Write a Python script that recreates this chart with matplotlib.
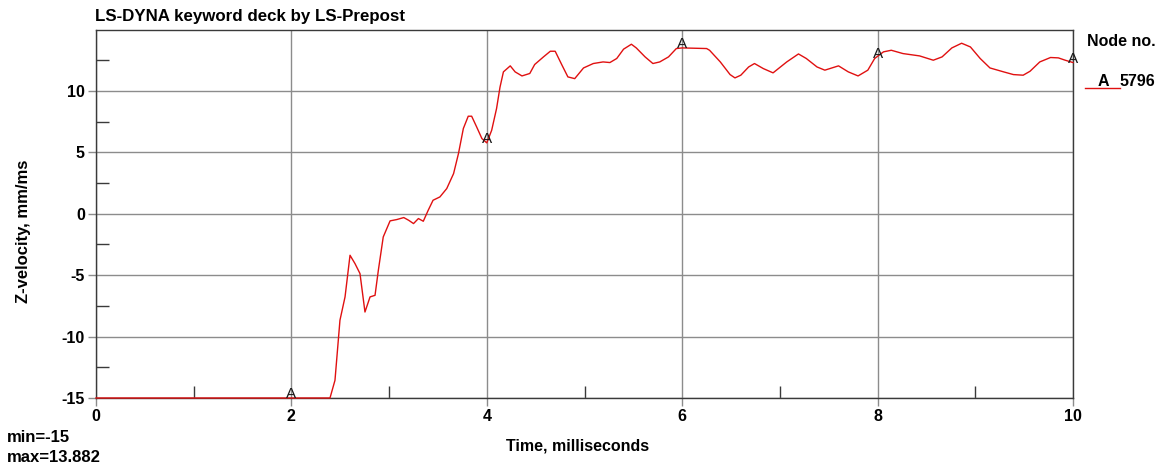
import matplotlib
matplotlib.use("Agg")
import matplotlib.pyplot as plt
from matplotlib.lines import Line2D

plt.rcParams["font.family"] = ["Liberation Sans", "DejaVu Sans"]
plt.rcParams["font.weight"] = "bold"

title = "LS-DYNA keyword deck by LS-Prepost"
x_label = "Time, milliseconds"
y_label = "Z-velocity, mm/ms"
node_id = "5796"
curve_tag = "A"

# node 5796 z-velocity history
time_ms = [
    0.0, 2.395, 2.446, 2.497, 2.549, 2.60, 2.651, 2.702, 2.753, 2.805,
    2.856, 2.89, 2.94, 3.01, 3.08, 3.15, 3.20, 3.25, 3.30, 3.35,
    3.40, 3.45, 3.52, 3.59, 3.66, 3.71, 3.76, 3.81, 3.845, 3.896,
    3.95, 4.0, 4.05, 4.10, 4.135, 4.17, 4.24, 4.29, 4.36, 4.44,
    4.49, 4.58, 4.65, 4.70, 4.77, 4.83, 4.90, 4.99, 5.09, 5.19,
    5.26, 5.33, 5.40, 5.48, 5.53, 5.62, 5.70, 5.77, 5.86, 5.94,
    6.0, 6.25, 6.28, 6.39, 6.49, 6.54, 6.60, 6.68, 6.74, 6.83,
    6.93, 7.07, 7.19, 7.27, 7.38, 7.46, 7.60, 7.70, 7.80, 7.90,
    7.97, 8.06, 8.14, 8.26, 8.43, 8.57, 8.66, 8.76, 8.86, 8.95,
    9.05, 9.15, 9.29, 9.39, 9.49, 9.56, 9.66, 9.77, 9.85, 9.92,
    10.0,
]
z_velocity = [
    -15.0, -15.0, -13.56, -8.67, -6.77, -3.38, -4.06, -4.87, -8.0, -6.77,
    -6.64, -4.6, -1.89, -0.58, -0.47, -0.31, -0.53, -0.80, -0.39, -0.61,
    0.28, 1.1, 1.37, 2.05, 3.27, 4.9, 6.94, 7.94, 7.94, 7.07,
    6.12, 5.77, 6.8, 8.57, 10.3, 11.55, 12.04, 11.55, 11.22, 11.42,
    12.15, 12.77, 13.23, 13.23, 12.09, 11.14, 11.0, 11.87, 12.23, 12.36,
    12.31, 12.64, 13.40, 13.80, 13.50, 12.77, 12.23, 12.36, 12.77, 13.45,
    13.5, 13.45, 13.31, 12.36, 11.33, 11.06, 11.28, 11.95, 12.23, 11.82,
    11.47, 12.36, 13.01, 12.64, 11.95, 11.69, 12.04, 11.55, 11.22, 11.69,
    12.64, 13.18, 13.31, 13.04, 12.85, 12.5, 12.77, 13.5, 13.882, 13.58,
    12.64, 11.87, 11.55, 11.33, 11.28, 11.6, 12.36, 12.72, 12.69, 12.5,
    12.31,
]
label_times = [2, 4, 6, 8, 10]

x_major = [0, 2, 4, 6, 8, 10]
x_minor = [1, 3, 5, 7, 9]
y_major = [-15, -10, -5, 0, 5, 10]
y_minor = [-12.5, -7.5, -2.5, 2.5, 7.5, 12.5]

red = "#e01010"
grid_col = "#8c8c8c"
frame_col = "#3a3a3a"

W, H = 1164, 468


def fx(px):
    return px / W


def fy(py):
    return 1 - py / H


fig = plt.figure(figsize=(W / 100, H / 100), dpi=100)
ax = fig.add_axes([fx(96), fy(398), (1073 - 96) / W, (398 - 29.5) / H])

ax.plot(time_ms, z_velocity, color=red, lw=1.0, clip_on=False, zorder=3)

# curve id letters sitting on the line at every other ms
for t in label_times:
    v = min(((abs(tt - t), vv) for tt, vv in zip(time_ms, z_velocity)))[1]
    ax.text(t, v, curve_tag, ha="center", va="baseline", fontsize=11,
            fontweight="normal", color="#1a1a1a", zorder=4)

ax.set_xlim(0, 10)
ax.set_ylim(-15, 15)
ax.set_xticks(x_major)
ax.set_xticks(x_minor, minor=True)
ax.set_yticks(y_major)
ax.set_yticks(y_minor, minor=True)
ax.set_xticklabels([str(v) for v in x_major])
ax.set_yticklabels([str(v) for v in y_major])

ax.grid(True, which="major", color=grid_col, lw=1.0)
ax.tick_params(which="major", direction="out", length=6, width=1,
               color=grid_col, labelsize=11.5, pad=2)
ax.tick_params(which="minor", direction="in", length=9, width=1,
               color=frame_col)
for lab in ax.get_xticklabels() + ax.get_yticklabels():
    lab.set_fontweight("bold")
for sp in ax.spines.values():
    sp.set_color(frame_col)
    sp.set_linewidth(1.0)

fig.text(fx(95), fy(17), title, fontsize=12.2, fontweight="bold",
         ha="left", va="center")
fig.text(fx(578), fy(446), x_label, fontsize=11.5, fontweight="bold",
         ha="center", va="center")
fig.text(fx(24), fy(231), y_label, fontsize=12, fontweight="bold",
         ha="center", va="center", rotation=90)
fig.text(fx(7), fy(437), "min=%g" % min(z_velocity), fontsize=12,
         fontweight="bold", ha="left", va="center")
fig.text(fx(7), fy(457), "max=%g" % max(z_velocity), fontsize=12,
         fontweight="bold", ha="left", va="center")

# node legend at right
fig.text(fx(1087), fy(41), "Node no.", fontsize=11.5,
         fontweight="bold", ha="left", va="center")
fig.add_artist(Line2D([fx(1085), fx(1120)], [fy(88), fy(88)],
                      color=red, lw=1.0))
fig.text(fx(1103), fy(81), curve_tag, fontsize=11.5,
         fontweight="bold", ha="center", va="center")
fig.text(fx(1120), fy(81), node_id, fontsize=11.5,
         fontweight="bold", ha="left", va="center")

fig.savefig("out.png", dpi=100)
